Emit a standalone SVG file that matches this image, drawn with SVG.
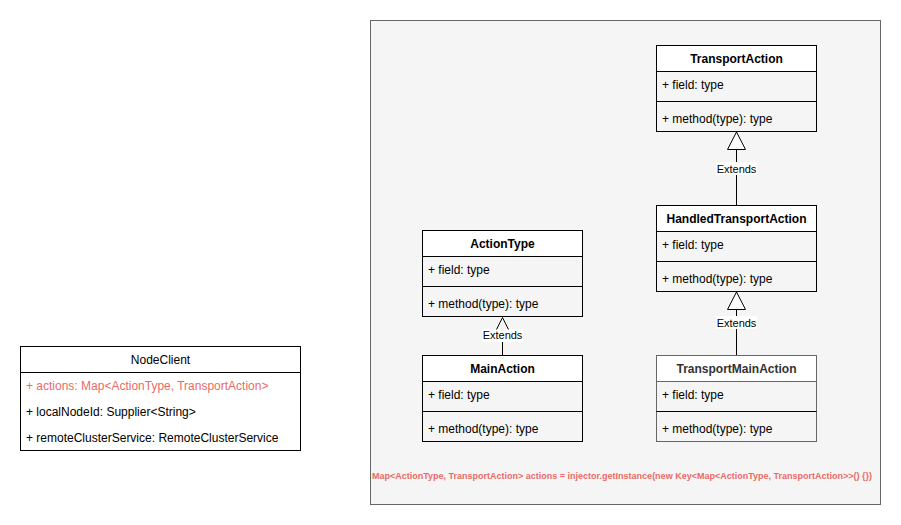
<svg xmlns="http://www.w3.org/2000/svg" width="901" height="525" viewBox="0 0 901 525">
<style>
text{font-family:"Liberation Sans",Arial,sans-serif;font-size:12px;fill:#000}
.t{font-weight:bold;text-anchor:middle}
.c{text-anchor:middle}
.box{fill:none;stroke:#000;stroke-width:1}
.hdr{fill:#fff;stroke:#000;stroke-width:1}
.ln{stroke:#000;stroke-width:1;fill:none}
.red{fill:#EA6B66}
.lbl{font-size:11px;text-anchor:middle}
</style>
<rect x="0" y="0" width="901" height="525" fill="#fff"/>
<g id="container">
<rect x="370.5" y="20.5" width="510" height="484" fill="#f5f5f5" stroke="#666"/>
</g>
<g id="TransportAction">
<rect class="hdr" x="656.5" y="45.5" width="160" height="26"/>
<rect class="box" x="656.5" y="45.5" width="160" height="86"/>
<text class="t" x="736.5" y="63">TransportAction</text>
<text x="662" y="89">+ field: type</text>
<line class="ln" x1="656.5" y1="101.5" x2="816.5" y2="101.5"/>
<text x="662" y="123">+ method(type): type</text>
</g>
<g id="HandledTransportAction">
<rect class="hdr" x="656.5" y="205.5" width="160" height="26"/>
<rect class="box" x="656.5" y="205.5" width="160" height="86"/>
<text class="t" x="736.5" y="223">HandledTransportAction</text>
<text x="662" y="249">+ field: type</text>
<line class="ln" x1="656.5" y1="261.5" x2="816.5" y2="261.5"/>
<text x="662" y="283">+ method(type): type</text>
</g>
<g id="TransportMainAction">
<rect x="656.5" y="355.5" width="160" height="26" fill="#fff" stroke="#666"/>
<rect x="656.5" y="355.5" width="160" height="86" fill="none" stroke="#666"/>
<text class="t" x="736.5" y="373" style="fill:#333">TransportMainAction</text>
<text x="662" y="399">+ field: type</text>
<line x1="656.5" y1="411.5" x2="816.5" y2="411.5" stroke="#000"/>
<text x="662" y="433">+ method(type): type</text>
</g>
<g id="ActionType">
<rect class="hdr" x="422.5" y="230.5" width="160" height="26"/>
<rect class="box" x="422.5" y="230.5" width="160" height="86"/>
<text class="t" x="502.5" y="248">ActionType</text>
<text x="428" y="274">+ field: type</text>
<line class="ln" x1="422.5" y1="286.5" x2="582.5" y2="286.5"/>
<text x="428" y="308">+ method(type): type</text>
</g>
<g id="MainAction">
<rect class="hdr" x="422.5" y="355.5" width="160" height="26"/>
<rect class="box" x="422.5" y="355.5" width="160" height="86"/>
<text class="t" x="502.5" y="373">MainAction</text>
<text x="428" y="399">+ field: type</text>
<line class="ln" x1="422.5" y1="411.5" x2="582.5" y2="411.5"/>
<text x="428" y="433">+ method(type): type</text>
</g>
<g id="NodeClient">
<rect x="20.5" y="346.5" width="280" height="104" fill="#fff" stroke="#000"/>
<line class="ln" x1="20.5" y1="372.5" x2="300.5" y2="372.5"/>
<text class="c" x="160.5" y="364">NodeClient</text>
<text class="red" x="26" y="390">+ actions: Map&lt;ActionType, TransportAction&gt;</text>
<text x="26" y="416">+ localNodeId: Supplier&lt;String&gt;</text>
<text x="26" y="442">+ remoteClusterService: RemoteClusterService</text>
</g>
<g id="connectors">
<line class="ln" x1="736.5" y1="205" x2="736.5" y2="149.5"/>
<path d="M736.5 132 L745.5 149.5 L727.5 149.5 Z" fill="#fff" stroke="#000"/>
<rect x="716" y="162" width="41" height="13" fill="#fff"/>
<text class="lbl" x="736.5" y="173">Extends</text>
<line class="ln" x1="736.5" y1="355" x2="736.5" y2="309.5"/>
<path d="M736.5 292 L745.5 309.5 L727.5 309.5 Z" fill="#fff" stroke="#000"/>
<rect x="716" y="316" width="41" height="13" fill="#fff"/>
<text class="lbl" x="736.5" y="327">Extends</text>
<line class="ln" x1="502.5" y1="355" x2="502.5" y2="330"/>
<rect x="482" y="329" width="41" height="13" fill="#fff"/>
<path class="ln" d="M496.5 329.5 L502.5 317.5 L508.5 329.5"/>
<text class="lbl" x="502.5" y="339">Extends</text>
</g>
<g id="note">
<text class="red" x="622" y="479" style="font-size:9px;font-weight:bold;text-anchor:middle">Map&lt;ActionType, TransportAction&gt; actions = injector.getInstance(new Key&lt;Map&lt;ActionType, TransportAction&gt;&gt;() {})</text>
</g>
</svg>
